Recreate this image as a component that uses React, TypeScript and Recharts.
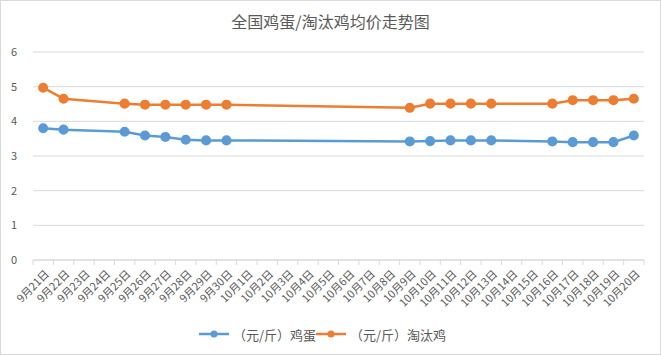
import React from 'react'
import { LineChart, Line, XAxis, YAxis, CartesianGrid, Legend } from 'recharts'

const days = [
  '9月21日', '9月22日', '9月23日', '9月24日', '9月25日', '9月26日', '9月27日', '9月28日', '9月29日', '9月30日',
  '10月1日', '10月2日', '10月3日', '10月4日', '10月5日', '10月6日', '10月7日', '10月8日', '10月9日', '10月10日',
  '10月11日', '10月12日', '10月13日', '10月14日', '10月15日', '10月16日', '10月17日', '10月18日', '10月19日', '10月20日',
]
const eggs = [3.8, 3.76, null, null, 3.7, 3.59, 3.55, 3.47, 3.45, 3.45, null, null, null, null, null, null, null, null, 3.42, 3.43, 3.45, 3.45, 3.45, null, null, 3.42, 3.4, 3.4, 3.4, 3.59]
const hens = [4.97, 4.65, null, null, 4.51, 4.48, 4.48, 4.48, 4.48, 4.48, null, null, null, null, null, null, null, null, 4.39, 4.51, 4.51, 4.51, 4.51, null, null, 4.51, 4.61, 4.61, 4.61, 4.65]
const yTicks = [0, 1, 2, 3, 4, 5, 6]

const data = days.map((d, i) => ({ day: d, egg: eggs[i], hen: hens[i] }))

const font = '"Noto Sans CJK SC", "Microsoft YaHei", sans-serif'
const BLUE = '#5B9BD5'
const ORANGE = '#ED7D31'
const band = 611 / days.length

function DayTick(props: any) {
  const { x, y, payload, index } = props
  return (
    <g>
      <line x1={x - band / 2} x2={x - band / 2} y1={y - 8} y2={y - 3} stroke="#d9d9d9" />
      {index === days.length - 1 && <line x1={x + band / 2} x2={x + band / 2} y1={y - 8} y2={y - 3} stroke="#d9d9d9" />}
      <text x={x + 4} y={y + 4} textAnchor="end" transform={`rotate(-45 ${x + 4} ${y + 4})`} fontSize={11} fill="#595959" fontFamily={font} dy="0.35em">
        {payload.value}
      </text>
    </g>
  )
}

function LegendBox() {
  const items = [
    { label: '（元/斤）鸡蛋', color: BLUE },
    { label: '（元/斤）淘汰鸡', color: ORANGE },
  ]
  return (
    <div style={{ height: 28, display: 'flex', justifyContent: 'center', alignItems: 'center', fontFamily: font, fontSize: 13, color: '#595959' }}>
      {items.map((it) => (
        <div key={it.label} style={{ display: 'flex', alignItems: 'center' }}>
          <svg width={30} height={10}>
            <line x1={0} x2={30} y1={5} y2={5} stroke={it.color} strokeWidth={2.5} />
            <circle cx={15} cy={5} r={3.5} fill={it.color} />
          </svg>
          <span style={{ marginLeft: 4 }}>{it.label}</span>
        </div>
      ))}
    </div>
  )
}

export default function App() {
  return (
    <div style={{ position: 'fixed', left: 0, top: 0, width: 659, height: 353, border: '1px solid #d9d9d9', background: '#fff' }}>
      <div style={{ position: 'absolute', top: 8, width: '100%', textAlign: 'center', fontFamily: font, fontSize: 16, color: '#595959' }}>
        全国鸡蛋/淘汰鸡均价走势图
      </div>
      <LineChart width={659} height={353} data={data} margin={{ top: 51, right: 16, left: 0, bottom: 6 }}>
        <CartesianGrid vertical={false} stroke="#d9d9d9" />
        <XAxis
          dataKey="day"
          interval={0}
          height={60}
          padding={{ left: band / 2, right: band / 2 }}
          tickLine={false}
          axisLine={{ stroke: '#d9d9d9' }}
          tick={<DayTick />}
        />
        <YAxis
          domain={[0, 6]}
          ticks={yTicks}
          width={32}
          axisLine={false}
          tickLine={false}
          tick={{ fontSize: 11, fill: '#595959', fontFamily: font }}
          tickMargin={10}
        />
        <Legend verticalAlign="bottom" height={28} content={<LegendBox />} />
        <Line dataKey="egg" stroke={BLUE} strokeWidth={2.5} dot={{ r: 3.8, fill: BLUE, stroke: BLUE }} connectNulls isAnimationActive={false} />
        <Line dataKey="hen" stroke={ORANGE} strokeWidth={2.5} dot={{ r: 3.8, fill: ORANGE, stroke: ORANGE }} connectNulls isAnimationActive={false} />
      </LineChart>
    </div>
  )
}
